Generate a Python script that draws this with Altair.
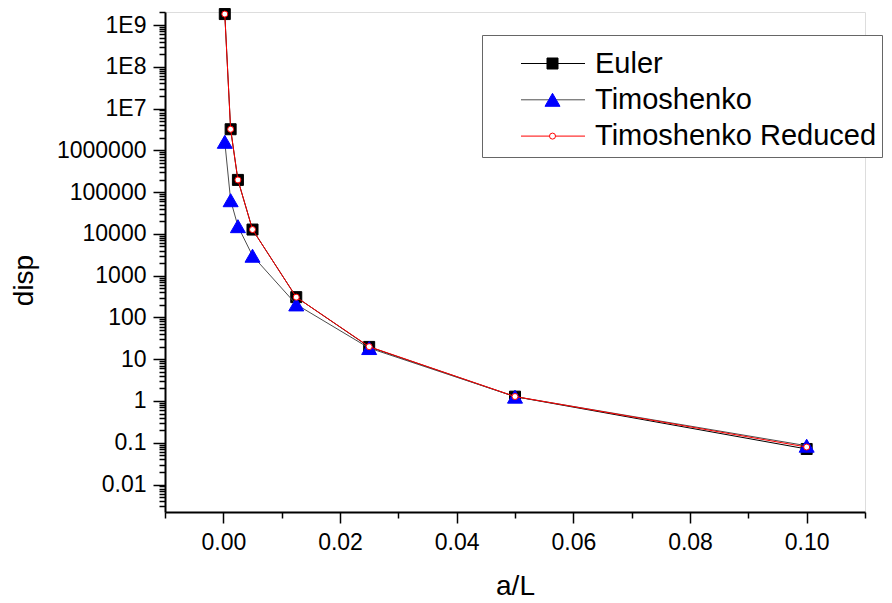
import altair as alt
import pandas as pd

# ---------------- data ----------------
a_over_L = [0.00025, 0.00125, 0.0025, 0.005, 0.0125, 0.025, 0.05, 0.1]
euler = [1.83e9, 3.2e6, 1.96e5, 1.27e4, 306, 19.7, 1.27, 0.071]
timoshenko = [1.6e6, 6.4e4, 1.53e4, 3000, 205, 18.5, 1.27, 0.085]
timo_reduced = [1.83e9, 3.2e6, 1.96e5, 1.27e4, 306, 20.0, 1.28, 0.079]
series_names = ["Euler", "Timoshenko", "Timoshenko Reduced"]

line_colors = ["#000000", "#4d4d4d", "#ff0000"]
marker_shapes = ["square", "triangle-up", "circle"]
marker_fills = ["#000000", "#0000ff", "#ffffff"]
marker_strokes = ["#000000", "#0000ff", "#ff0000"]
marker_sizes = [121, 225, 36]

x_major = [0.0, 0.02, 0.04, 0.06, 0.08, 0.10]
x_major_labels = ["0.00", "0.02", "0.04", "0.06", "0.08", "0.10"]
x_minor = [-0.01, 0.01, 0.03, 0.05, 0.07, 0.09, 0.11]

y_major = [0.01, 0.1, 1, 10, 100, 1000, 10000, 100000, 1000000, 1e7, 1e8, 1e9]
y_major_labels = ["0.01", "0.1", "1", "10", "100", "1000", "10000", "100000",
                  "1000000", "1E7", "1E8", "1E9"]
y_domain = [0.0022, 2.05e9]
y_minor = [m * 10.0 ** k for k in range(-3, 10) for m in range(2, 10)
           if y_domain[0] <= m * 10.0 ** k <= y_domain[1]]

FONT = "Liberation Sans"

# ---------------- table ----------------
rows = []
for name, ys in zip(series_names, [euler, timoshenko, timo_reduced]):
    for xv, yv in zip(a_over_L, ys):
        rows.append({"aL": xv, "disp": yv, "series": name, "series_m": name + " "})
df = pd.DataFrame(rows)


def js_list(vals):
    return "[" + ",".join(repr(float(v)) if not isinstance(v, str) else "'" + v + "'" for v in vals) + "]"


xv_js, xl_js = js_list(x_major), js_list(x_major_labels)
yv_js, yl_js = js_list(y_major), js_list(y_major_labels)

x_axis = alt.Axis(
    values=x_major + x_minor,
    labelExpr=f"indexof({xv_js}, datum.value) >= 0 ? {xl_js}[indexof({xv_js}, datum.value)] : ''",
    tickSize={"condition": {"test": f"indexof({xv_js}, datum.value) >= 0", "value": 11}, "value": 6},
    tickWidth=1.5, tickColor="black", domainColor="black", domainWidth=2,
    labelFont=FONT, labelFontSize=23, labelColor="black", labelPadding=8,
    labelOverlap=False, labelFlush=False, labelBound=False, grid=False,
    title="a/L", titleFont=FONT, titleFontSize=28, titleFontWeight="normal",
    titleColor="black", titleX=350, titleY=74, titleBaseline="middle", titleAlign="center",
)

y_axis = alt.Axis(
    values=y_major + y_minor,
    labelExpr=f"indexof({yv_js}, datum.value) >= 0 ? {yl_js}[indexof({yv_js}, datum.value)] : ''",
    tickSize={"condition": {"test": f"indexof({yv_js}, datum.value) >= 0", "value": 12}, "value": 6},
    tickWidth=1.5, tickColor="black", domainColor="black", domainWidth=2,
    labelFont=FONT, labelFontSize=23, labelColor="black", labelPadding=7,
    labelOverlap=False, labelFlush=False, labelBound=False, grid=False,
    title="disp", titleFont=FONT, titleFontSize=28, titleFontWeight="normal",
    titleColor="black", titleAngle=270, titleX=-141, titleY=268,
    titleBaseline="middle", titleAlign="center",
)

x_enc = alt.X("aL:Q", scale=alt.Scale(domain=[-0.01, 0.11], nice=False, zero=False), axis=x_axis)
y_enc = alt.Y("disp:Q", scale=alt.Scale(type="log", domain=y_domain, nice=False), axis=y_axis)

legend_common = dict(
    orient="none", legendX=317, legendY=23, title=" ", titleFontSize=5, titlePadding=4.5,
    padding=5, clipHeight=28, rowPadding=7.3, labelFont=FONT, labelFontSize=29,
    labelColor="black", labelLimit=500,
)

legend_lines = alt.Legend(
    **legend_common, labelOffset=9.5, symbolOffset=33.5, symbolType="stroke",
    symbolSize=4096, symbolStrokeWidth=1, strokeColor="#666666", fillColor="white",
)
legend_marks = alt.Legend(
    **legend_common, labelExpr="''", symbolOffset=51, symbolStrokeWidth=1, symbolOpacity=1,
)

m_domain = [n + " " for n in series_names]
color_enc = alt.Color("series:N", scale=alt.Scale(domain=series_names, range=line_colors),
                      legend=legend_lines)
shape_enc = alt.Shape("series_m:N", scale=alt.Scale(domain=m_domain, range=marker_shapes),
                      legend=legend_marks)
fill_enc = alt.Fill("series_m:N", scale=alt.Scale(domain=m_domain, range=marker_fills),
                    legend=legend_marks)
stroke_enc = alt.Stroke("series_m:N", scale=alt.Scale(domain=m_domain, range=marker_strokes),
                        legend=legend_marks)
size_enc = alt.Size("series_m:N", scale=alt.Scale(type="ordinal", domain=m_domain, range=marker_sizes),
                    legend=legend_marks)

base = alt.Chart(df)
layers = []
for name in series_names:
    sub = base.transform_filter(alt.datum.series == name)
    layers.append(sub.mark_line(strokeWidth=1).encode(x=x_enc, y=y_enc, color=color_enc))
    layers.append(sub.mark_point(filled=True, opacity=1, strokeWidth=1).encode(
        x=x_enc, y=y_enc, shape=shape_enc, fill=fill_enc, stroke=stroke_enc, size=size_enc))

chart = alt.layer(*layers).properties(
    width=700, height=500,
    autosize=alt.AutoSizeParams(type="none"),
    padding={"left": 157, "top": 4, "right": 19, "bottom": 90},
).configure_view(strokeWidth=0).configure(background="white")

chart.save("out.html", embed_options={"renderer": "svg", "actions": False})
